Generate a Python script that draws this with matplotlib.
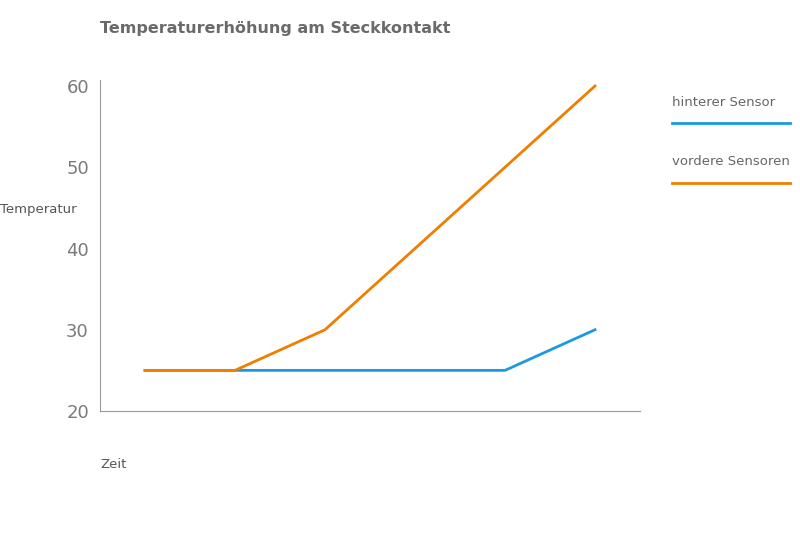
import matplotlib
matplotlib.use("Agg")
import matplotlib.pyplot as plt
from matplotlib.lines import Line2D

x = [0, 1, 2, 3, 4, 5]
hinten = [25, 25, 25, 25, 25, 30]
vorne = [25, 25, 30, 40, 50, 60]
yticks = [20, 30, 40, 50, 60]
blue = "#1a9be0"
orange = "#ee7f00"
grey = "#7a7a7a"

fig = plt.figure(figsize=(8, 5.33), dpi=100)
ax = fig.add_axes([100/800, 1-411/533, 540/800, 325/533])
ax.plot(x, hinten, color=blue, lw=2)
ax.plot(x, vorne, color=orange, lw=2)
ax.set_xlim(-0.5, 5.5)
ax.set_ylim(20, 60)
ax.set_yticks(yticks)
ax.set_xticks([])
for s in ["top", "right"]:
    ax.spines[s].set_visible(False)
for s in ["left", "bottom"]:
    ax.spines[s].set_color("#9a9a9a")
ax.tick_params(axis="y", length=0, pad=8, labelsize=13, labelcolor=grey)
ax.spines["left"].set_bounds(20, 60.8)
for l in ax.lines:
    l.set_clip_on(False)

fig.text(100/800, 1-29/533, "Temperaturerhöhung am Steckkontakt", fontsize=11.5,
         fontweight="bold", color="#6a6a6a", va="center")
fig.text(0, 1-210/533, "Temperatur", fontsize=9.5, color="#555555", va="center")
fig.text(100/800, 1-464/533, "Zeit", fontsize=9.5, color="#555555", va="center")

for name, col, ty, ly in [("hinterer Sensor", blue, 103, 123), ("vordere Sensoren", orange, 161, 183)]:
    fig.text(672/800, 1-ty/533, name, fontsize=9.5, color="#666666", va="center")
    fig.add_artist(Line2D([672/800, 790/800], [1-ly/533, 1-ly/533], color=col, lw=2,
                          transform=fig.transFigure))

fig.savefig("out.png", dpi=100)
